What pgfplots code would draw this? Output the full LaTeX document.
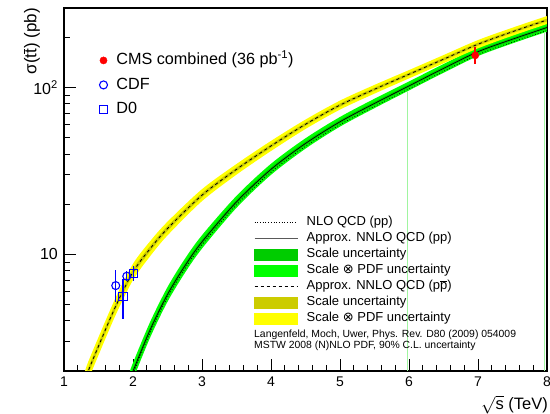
\documentclass[border=0pt]{standalone}
\usepackage{pgfplots}
\pgfplotsset{compat=1.18}
\usepackage{pgfplotstable}
\usepgfplotslibrary{fillbetween}
\usepackage{fontspec}
\setmainfont{Liberation Sans}
\newfontfamily\djv{DejaVu Sans}

\definecolor{gOuter}{RGB}{0,255,0}
\definecolor{gInner}{RGB}{0,204,0}
\definecolor{yOuter}{RGB}{255,255,0}
\definecolor{yInner}{RGB}{204,204,0}
\definecolor{artif}{RGB}{160,245,160}
\definecolor{rootblue}{RGB}{0,0,255}

% pp: NNLO central, NLO, outer (scale x PDF) band, inner (scale) band
\pgfplotstableread{
x c nlo olo ohi ilo ihi
1.95 1.738 1.669 1.542 1.959 1.667 1.812
2.0 1.995 1.915 1.778 2.239 1.916 2.077
2.25 3.548 3.406 3.185 3.952 3.416 3.685
2.5 5.754 5.524 5.198 6.370 5.553 5.962
2.75 8.511 8.171 7.723 9.379 8.228 8.804
3.0 11.89 11.41 10.84 13.03 11.51 12.28
3.5 20.65 19.82 19.02 22.43 20.06 21.26
4.0 32.36 31.07 29.99 34.92 31.51 33.23
4.5 46.24 44.39 43.05 49.66 45.10 47.41
5.0 62.37 59.88 58.34 66.67 60.93 63.85
5.5 80.35 77.14 75.31 85.73 78.56 82.18
6.0 102.3 98.21 96.15 108.8 100.1 104.6
6.5 130.3 125.1 122.7 138.4 127.6 133.1
7.0 164.1 157.5 154.5 174.3 160.7 167.6
7.5 195.0 187.2 184.1 206.5 191.1 199.0
8.0 229.1 219.9 216.3 242.6 224.5 233.8
}\pp

% ppbar: NNLO central, outer band, inner band
\pgfplotstableread{
x c olo ohi ilo ihi
1.30 1.738 1.527 1.978 1.661 1.818
1.35 1.995 1.758 2.265 1.909 2.085
1.5 2.818 2.489 3.190 2.698 2.943
1.75 4.898 4.346 5.520 4.697 5.108
2.0 7.852 7.017 8.786 7.548 8.168
2.25 10.84 9.775 12.02 10.45 11.24
2.5 14.29 13.00 15.70 13.83 14.77
3.0 22.65 20.86 24.60 22.00 23.32
3.5 32.36 30.07 34.82 31.54 33.20
4.0 44.67 41.67 47.89 43.60 45.76
4.5 60.26 56.48 64.30 58.92 61.63
5.0 78.52 73.80 83.55 76.83 80.25
5.5 97.72 92.02 103.8 95.69 99.79
6.0 120.2 113.5 127.3 117.8 122.6
6.5 147.9 139.7 156.6 145.0 150.9
7.0 182.0 171.9 192.7 178.4 185.7
7.5 216.3 204.6 228.6 212.2 220.5
8.0 254.1 240.4 268.6 249.2 259.1
}\ppbar

\pgfplotsset{
  lineimg/.style={legend image code/.code={\draw[##1] (0pt,0pt) -- (43pt,0pt);}},
  boximg/.style={legend image code/.code={\fill[##1] (0pt,-5.3pt) rectangle (43pt,5.3pt);}},
}

\begin{document}
\begin{tikzpicture}
\begin{axis}[
  at={(0pt,0pt)}, anchor=south west, scale only axis,
  width=483pt, height=363pt,
  xmin=1, xmax=8, ymin=2, ymax=300, ymode=log, log basis y=10,
  xtick={1,2,3,4,5,6,7,8}, minor x tick num=4,
  ytick={10,100}, yticklabels={10,10\textsuperscript{2}},
  minor ytick={3,4,5,6,7,8,9,20,30,40,50,60,70,80,90,200,300},
  tick align=inside, tick pos=left,
  major tick length=12pt, minor tick length=6pt,
  axis line style={line width=1.2pt},
  tick style={line width=0.9pt, black},
  /pgf/number format/assume math mode=true,
  xticklabel style={font=\fontsize{14}{14}\selectfont, inner sep=0pt, yshift=-6pt},
  yticklabel style={font=\fontsize{16}{16}\selectfont, inner sep=0pt, xshift=-6pt},
  xlabel={$\sqrt{\mbox{s}}$ (TeV)},
  xlabel style={at={(rel axis cs:1,0)}, anchor=north east, inner sep=0pt, yshift=-24.5pt, xshift=1pt, font=\fontsize{16.5}{16.5}\selectfont},
  ylabel={σ(t$\overline{\mbox{t}}$) (pb)},
  ylabel style={at={(axis description cs:-0.0497,1)}, anchor=south east, inner sep=0pt, font=\fontsize{17}{17}\selectfont},
  legend style={at={(axis description cs:0.0731,0.8755)}, anchor=north west, draw=none, fill=none,
    inner sep=0pt, outer sep=0pt, font=\fontsize{16.2}{16.2}\selectfont, row sep=10pt,
    nodes={inner sep=0pt, text height=11.5pt, text depth=3pt},
    /tikz/every odd column/.append style={column sep=8.7pt}},
  legend cell align=left,
]
% pp bands
\addplot[name path=gOhi, draw=none, smooth, forget plot] table[x=x,y=ohi]{\pp};
\addplot[name path=gOlo, draw=none, smooth, forget plot] table[x=x,y=olo]{\pp};
\addplot[gOuter, forget plot] fill between[of=gOhi and gOlo];
\addplot[name path=gIhi, draw=none, smooth, forget plot] table[x=x,y=ihi]{\pp};
\addplot[name path=gIlo, draw=none, smooth, forget plot] table[x=x,y=ilo]{\pp};
\addplot[gInner, forget plot] fill between[of=gIhi and gIlo];
% artefact lines of the band graphs
\addplot[artif, line width=0.7pt, forget plot] coordinates {(5.97,2) (5.97,96)};
\addplot[artif, line width=0.7pt, forget plot] coordinates {(7.965,2) (7.965,216)};
% pp lines
\addplot[black, line width=0.8pt, dotted, smooth, forget plot] table[x=x,y=nlo]{\pp};
\addplot[black, line width=0.7pt, smooth, forget plot] table[x=x,y=c]{\pp};
% ppbar bands
\addplot[name path=yOhi, draw=none, smooth, forget plot] table[x=x,y=ohi]{\ppbar};
\addplot[name path=yOlo, draw=none, smooth, forget plot] table[x=x,y=olo]{\ppbar};
\addplot[yOuter, forget plot] fill between[of=yOhi and yOlo];
\addplot[name path=yIhi, draw=none, smooth, forget plot] table[x=x,y=ihi]{\ppbar};
\addplot[name path=yIlo, draw=none, smooth, forget plot] table[x=x,y=ilo]{\ppbar};
\addplot[yInner, forget plot] fill between[of=yIhi and yIlo];
\addplot[black, line width=0.8pt, dash pattern=on 3pt off 3pt, smooth, forget plot] table[x=x,y=c]{\ppbar};
% data
\addplot[only marks, mark=*, red, mark size=3.6pt,
  error bars/.cd, y dir=both, y explicit, error mark=none,
  error bar style={line width=1.5pt, red}]
  coordinates {(6.96,156) +- (0,18)};
\addlegendentry{CMS combined (36 pb\textsuperscript{-1})}
\addplot[only marks, mark=o, color=rootblue, mark size=4pt,
  mark options={draw=rootblue, line width=1.1pt},
  error bars/.cd, y dir=both, y explicit, error mark=none,
  error bar style={line width=1.1pt, rootblue}]
  coordinates {(1.75,6.5) += (0,1.6) -= (0,1.3) (1.91,7.4) +- (0,0.5)};
\addlegendentry{CDF}
\addplot[only marks, mark=square, color=rootblue, mark size=4.2pt,
  mark options={draw=rootblue, line width=1.1pt},
  error bars/.cd, y dir=both, y explicit, error mark=none,
  error bar style={line width=1.1pt, rootblue}]
  coordinates {(1.855,5.6) +- (0,1.5) (2.005,7.7) +- (0,0.8)};
\addlegendentry{D0}
\end{axis}

\begin{axis}[
  at={(0pt,0pt)}, anchor=south west, scale only axis,
  width=483pt, height=363pt, hide axis,
  xmin=0, xmax=1, ymin=0, ymax=1,
  legend style={at={(axis description cs:0.3934,0.4264)}, anchor=north west, draw=none, fill=none,
    inner sep=0pt, outer sep=0pt, font=\fontsize{13}{13}\selectfont, row sep=3.5pt,
    nodes={inner sep=0pt, text height=9.5pt, text depth=3pt},
    /tikz/every odd column/.append style={column sep=8.5pt}},
  legend cell align=left,
]
\addplot[draw=none, forget plot] coordinates {(0,0) (1,1)};
\addlegendimage{lineimg, black, line width=0.7pt, dotted}
\addlegendentry{NLO QCD (pp)}
\addlegendimage{lineimg, black!65, line width=1.2pt}
\addlegendentry{Approx. NNLO QCD (pp)}
\addlegendimage{boximg, gInner}
\addlegendentry{Scale uncertainty}
\addlegendimage{boximg, gOuter}
\addlegendentry{Scale {\djv ⊗} PDF uncertainty}
\addlegendimage{lineimg, black, line width=0.8pt, dash pattern=on 3pt off 3pt}
\addlegendentry{Approx. NNLO QCD (p$\overline{\mbox{p}}$)}
\addlegendimage{boximg, yInner}
\addlegendentry{Scale uncertainty}
\addlegendimage{boximg, yOuter}
\addlegendentry{Scale {\djv ⊗} PDF uncertainty}
\node[anchor=west, inner sep=0pt, font=\fontsize{10.4}{10.4}\selectfont] at (axis description cs:0.3934,0.1000) {Langenfeld, Moch, Uwer, Phys. Rev. D80 (2009) 054009};
\node[anchor=west, inner sep=0pt, font=\fontsize{10.4}{10.4}\selectfont] at (axis description cs:0.3934,0.0689) {MSTW 2008 (N)NLO PDF, 90\% C.L. uncertainty};
\end{axis}
\pgfresetboundingbox
\useasboundingbox (-64pt,-43pt) rectangle (486pt,371pt);
\end{tikzpicture}
\end{document}
